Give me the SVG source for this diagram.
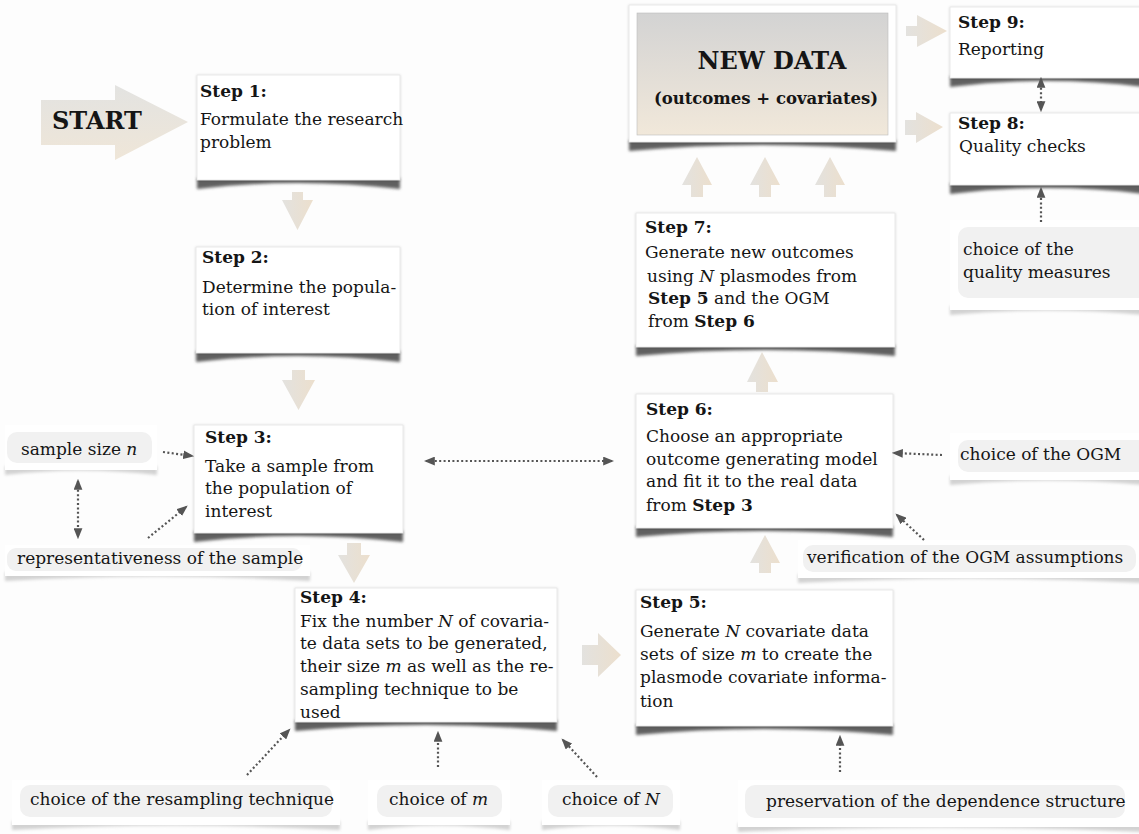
<svg xmlns="http://www.w3.org/2000/svg" width="1139" height="834" viewBox="0 0 1139 834">
<defs>
  <linearGradient id="blk" x1="0" y1="0" x2="1" y2="0"><stop offset="0" stop-color="#e3e2df"/><stop offset="1" stop-color="#ecdfcd"/></linearGradient>
  <linearGradient id="startg" x1="0" y1="0" x2="0" y2="1"><stop offset="0" stop-color="#e3e3e1"/><stop offset="1" stop-color="#efe6d8"/></linearGradient>
  <linearGradient id="newg" x1="0" y1="0" x2="0" y2="1"><stop offset="0" stop-color="#d3d3d3"/><stop offset="1" stop-color="#f1e8da"/></linearGradient>
  <filter id="blur" x="-5%" y="-60%" width="110%" height="220%"><feGaussianBlur stdDeviation="1.5"/></filter>
  <filter id="soft" x="-5%" y="-10%" width="110%" height="125%"><feDropShadow dx="0" dy="0.5" stdDeviation="1.2" flood-color="#000" flood-opacity="0.2"/></filter>
  <marker id="ah" viewBox="0 0 10 8" refX="8" refY="4" markerWidth="11" markerHeight="9" markerUnits="userSpaceOnUse" orient="auto-start-reverse"><path d="M0,0 L10,4 L0,8 z" fill="#555"/></marker>
</defs>
<style>
  .t{font-family:"DejaVu Serif",serif;font-size:17px;fill:#151515}
  .b{font-weight:bold}
  .i{font-style:italic}
  .box{fill:#fff;stroke:#e4e4e4;stroke-width:0.8;filter:url(#soft)}
  .shd{fill:#606060;filter:url(#blur)}
  .cshd{fill:#d2d2d2;filter:url(#blur)}
  .card{fill:#fff}
  .pill{fill:#f1f1f1}
  .arr{fill:url(#blk)}
  .dot{fill:none;stroke:#555;stroke-width:2.2;stroke-dasharray:2 2.4}
</style>
<rect x="0" y="0" width="1139" height="834" fill="#fdfdfd"/>

<g id="start">
  <polygon points="41,100 115,100 115,85 188,122 115,160 115,145 41,145" fill="url(#startg)"/>
  <text class="t b" x="52" y="129" style="font-size:24px">START</text>
</g>

<g id="step1">
  <path class="shd" d="M197,178 L400,178 L400,189 Q298,177 197,189 Z"/>
  <rect class="box" x="197" y="75" width="203" height="105"/>
  <text class="t b" x="200" y="97">Step 1:</text>
  <text class="t" x="200" y="125">Formulate the research</text>
  <text class="t" x="200" y="148">problem</text>
</g>

<g id="step2">
  <path class="shd" d="M196,351 L400,351 L400,362 Q298,350 196,362 Z"/>
  <rect class="box" x="196" y="247" width="204" height="106"/>
  <text class="t b" x="202" y="263">Step 2:</text>
  <text class="t" x="202" y="293">Determine the popula-</text>
  <text class="t" x="202" y="315">tion of interest</text>
</g>

<g id="step3">
  <path class="shd" d="M194,531 L403,531 L403,542 Q298,530 194,542 Z"/>
  <rect class="box" x="194" y="425" width="209" height="108"/>
  <text class="t b" x="205" y="443">Step 3:</text>
  <text class="t" x="205" y="472">Take a sample from</text>
  <text class="t" x="205" y="494">the population of</text>
  <text class="t" x="205" y="517">interest</text>
</g>

<g id="step4">
  <path class="shd" d="M295,720 L557,720 L557,731 Q426,719 295,731 Z"/>
  <rect class="box" x="295" y="588" width="262" height="134"/>
  <text class="t b" x="300" y="603">Step 4:</text>
  <text class="t" x="300" y="627">Fix the number <tspan class="i">N</tspan> of covaria-</text>
  <text class="t" x="300" y="649">te data sets to be generated,</text>
  <text class="t" x="300" y="672">their size <tspan class="i">m</tspan> as well as the re-</text>
  <text class="t" x="300" y="695">sampling technique to be</text>
  <text class="t" x="300" y="718">used</text>
</g>

<g id="step5">
  <path class="shd" d="M636,724 L893,724 L893,735 Q764,723 636,735 Z"/>
  <rect class="box" x="636" y="590" width="257" height="136"/>
  <text class="t b" x="640" y="608">Step 5:</text>
  <text class="t" x="640" y="637">Generate <tspan class="i">N</tspan> covariate data</text>
  <text class="t" x="640" y="660">sets of size <tspan class="i">m</tspan> to create the</text>
  <text class="t" x="640" y="683">plasmode covariate informa-</text>
  <text class="t" x="640" y="707">tion</text>
</g>

<g id="step6">
  <path class="shd" d="M636,526 L893,526 L893,537 Q764,525 636,537 Z"/>
  <rect class="box" x="636" y="394" width="257" height="134"/>
  <text class="t b" x="646" y="415">Step 6:</text>
  <text class="t" x="646" y="442">Choose an appropriate</text>
  <text class="t" x="646" y="465">outcome generating model</text>
  <text class="t" x="646" y="487">and fit it to the real data</text>
  <text class="t" x="646" y="511">from <tspan class="b">Step 3</tspan></text>
</g>

<g id="step7">
  <path class="shd" d="M636,345 L895,345 L895,356 Q765,344 636,356 Z"/>
  <rect class="box" x="636" y="213" width="259" height="134"/>
  <text class="t b" x="645" y="233">Step 7:</text>
  <text class="t" x="645" y="258">Generate new outcomes</text>
  <text class="t" x="647" y="282">using <tspan class="i">N</tspan> plasmodes from</text>
  <text class="t" x="648" y="304"><tspan class="b">Step 5</tspan> and the OGM</text>
  <text class="t" x="648" y="327">from <tspan class="b">Step 6</tspan></text>
</g>

<g id="newdata">
  <path class="shd" d="M629,140 L896,140 L896,151 Q762,139 629,151 Z"/>
  <rect class="box" x="629" y="5" width="267" height="137"/>
  <rect x="637" y="13" width="251" height="122" fill="url(#newg)" stroke="#bdbdbd" stroke-width="0.6"/>
  <text class="t b" x="772" y="69" text-anchor="middle" style="font-size:24px">NEW DATA</text>
  <text class="t b" x="766" y="104" text-anchor="middle" style="font-size:16.5px">(outcomes + covariates)</text>
</g>

<g id="step9">
  <path class="shd" d="M950,76 L1145,76 L1145,87 Q1047,75 950,87 Z"/>
  <rect class="box" x="950" y="7" width="195" height="71"/>
  <text class="t b" x="958" y="28">Step 9:</text>
  <text class="t" x="958" y="55">Reporting</text>
</g>

<g id="step8">
  <path class="shd" d="M950,183 L1145,183 L1145,194 Q1047,182 950,194 Z"/>
  <rect class="box" x="950" y="113" width="195" height="72"/>
  <text class="t b" x="958" y="129">Step 8:</text>
  <text class="t" x="959" y="152">Quality checks</text>
</g>

<g id="quality">
  <path class="cshd" d="M950,306 L1145,306 L1145,315 Q1047,306 950,315 Z"/>
  <rect class="card" x="950" y="220" width="195" height="90"/>
  <rect class="pill" x="958" y="227" width="190" height="71" rx="10"/>
  <text class="t" x="963" y="255">choice of the</text>
  <text class="t" x="963" y="278">quality measures</text>
</g>

<g id="ogm">
  <path class="cshd" d="M950,476 L1145,476 L1145,485 Q1047,476 950,485 Z"/>
  <rect class="card" x="950" y="433" width="195" height="47"/>
  <rect class="pill" x="958" y="440" width="190" height="32" rx="10"/>
  <text class="t" x="960" y="460">choice of the OGM</text>
</g>

<g id="verification">
  <path class="cshd" d="M798,574 L1145,574 L1145,583 Q970,574 798,583 Z"/>
  <rect class="card" x="798" y="540" width="347" height="38"/>
  <rect class="pill" x="803" y="545" width="333" height="27" rx="10"/>
  <text class="t" x="807" y="563">verification of the OGM assumptions</text>
</g>

<g id="samplesize">
  <path class="cshd" d="M5,466 L157,466 L157,475 Q81,466 5,475 Z"/>
  <rect class="card" x="5" y="425" width="152" height="45"/>
  <rect class="pill" x="7" y="432" width="145" height="31" rx="10"/>
  <text class="t" x="21" y="455">sample size <tspan class="i">n</tspan></text>
</g>

<g id="representativeness">
  <path class="cshd" d="M5,572 L310,572 L310,581 Q157,572 5,581 Z"/>
  <rect class="card" x="5" y="545" width="305" height="31"/>
  <rect class="pill" x="7" y="548" width="295" height="23" rx="9"/>
  <text class="t" x="17" y="564">representativeness of the sample</text>
</g>

<g id="resampling">
  <path class="cshd" d="M12,821 L340,821 L340,830 Q176,821 12,830 Z"/>
  <rect class="card" x="12" y="780" width="328" height="45"/>
  <rect class="pill" x="20" y="785" width="312" height="32" rx="10"/>
  <text class="t" x="30" y="805">choice of the resampling technique</text>
</g>

<g id="choice-m">
  <path class="cshd" d="M368,821 L510,821 L510,830 Q439,821 368,830 Z"/>
  <rect class="card" x="368" y="780" width="142" height="45"/>
  <rect class="pill" x="377" y="785" width="125" height="32" rx="10"/>
  <text class="t" x="389" y="805">choice of <tspan class="i">m</tspan></text>
</g>

<g id="choice-N">
  <path class="cshd" d="M542,821 L680,821 L680,830 Q611,821 542,830 Z"/>
  <rect class="card" x="542" y="780" width="138" height="45"/>
  <rect class="pill" x="548" y="785" width="125" height="32" rx="10"/>
  <text class="t" x="562" y="805">choice of <tspan class="i">N</tspan></text>
</g>

<g id="preservation">
  <path class="cshd" d="M738,823 L1145,823 L1145,832 Q940,823 738,832 Z"/>
  <rect class="card" x="738" y="780" width="407" height="47"/>
  <rect class="pill" x="745" y="785" width="380" height="33" rx="10"/>
  <text class="t" x="766" y="807">preservation of the dependence structure</text>
</g>

<g id="connectors">
  <polygon class="arr" points="292,192 303,192 303,200 313,200 297.5,230 282,200 292,200"/>
  <polygon class="arr" points="292,370 305,370 305,380 315,380 298.5,410 282,380 292,380"/>
  <polygon class="arr" points="347,543 361,543 361,555 370,555 354,583 338,555 347,555"/>
  <polygon class="arr" points="582,645 598,645 598,633 621,655 598,677 598,665 582,665"/>
  <polygon class="arr" points="759,573 771,573 771,563 780,563 765,535 750,563 759,563"/>
  <polygon class="arr" points="756,392 768,392 768,382 778,382 762,352 747,382 756,382"/>
  <polygon class="arr" points="691,197 703,197 703,185 712,185 697,157 682,185 691,185"/>
  <polygon class="arr" points="759,197 771,197 771,185 780,185 765,157 750,185 759,185"/>
  <polygon class="arr" points="824,197 836,197 836,185 845,185 830,157 815,185 824,185"/>
  <polygon class="arr" points="906,26 917,26 917,15 947,31 917,47 917,36 906,36"/>
  <polygon class="arr" points="905,120 916,120 916,112 943,127 916,143 916,135 905,135"/>

  <line class="dot" x1="163" y1="452" x2="192" y2="456" marker-end="url(#ah)"/>
  <line class="dot" x1="78" y1="481" x2="78" y2="537" marker-start="url(#ah)" marker-end="url(#ah)"/>
  <line class="dot" x1="148" y1="538" x2="186" y2="507" marker-end="url(#ah)"/>
  <line class="dot" x1="426" y1="461" x2="612" y2="461" marker-start="url(#ah)" marker-end="url(#ah)"/>
  <line class="dot" x1="247" y1="775" x2="289" y2="730" marker-end="url(#ah)"/>
  <line class="dot" x1="438" y1="767" x2="438" y2="733" marker-end="url(#ah)"/>
  <line class="dot" x1="597" y1="777" x2="563" y2="740" marker-end="url(#ah)"/>
  <line class="dot" x1="840" y1="772" x2="840" y2="737" marker-end="url(#ah)"/>
  <line class="dot" x1="942" y1="455" x2="894" y2="453" marker-end="url(#ah)"/>
  <line class="dot" x1="924" y1="540" x2="897" y2="515" marker-end="url(#ah)"/>
  <line class="dot" x1="1041" y1="222" x2="1041" y2="189" marker-end="url(#ah)"/>
  <line class="dot" x1="1041" y1="79" x2="1041" y2="110" marker-start="url(#ah)" marker-end="url(#ah)"/>
</g>
</svg>
